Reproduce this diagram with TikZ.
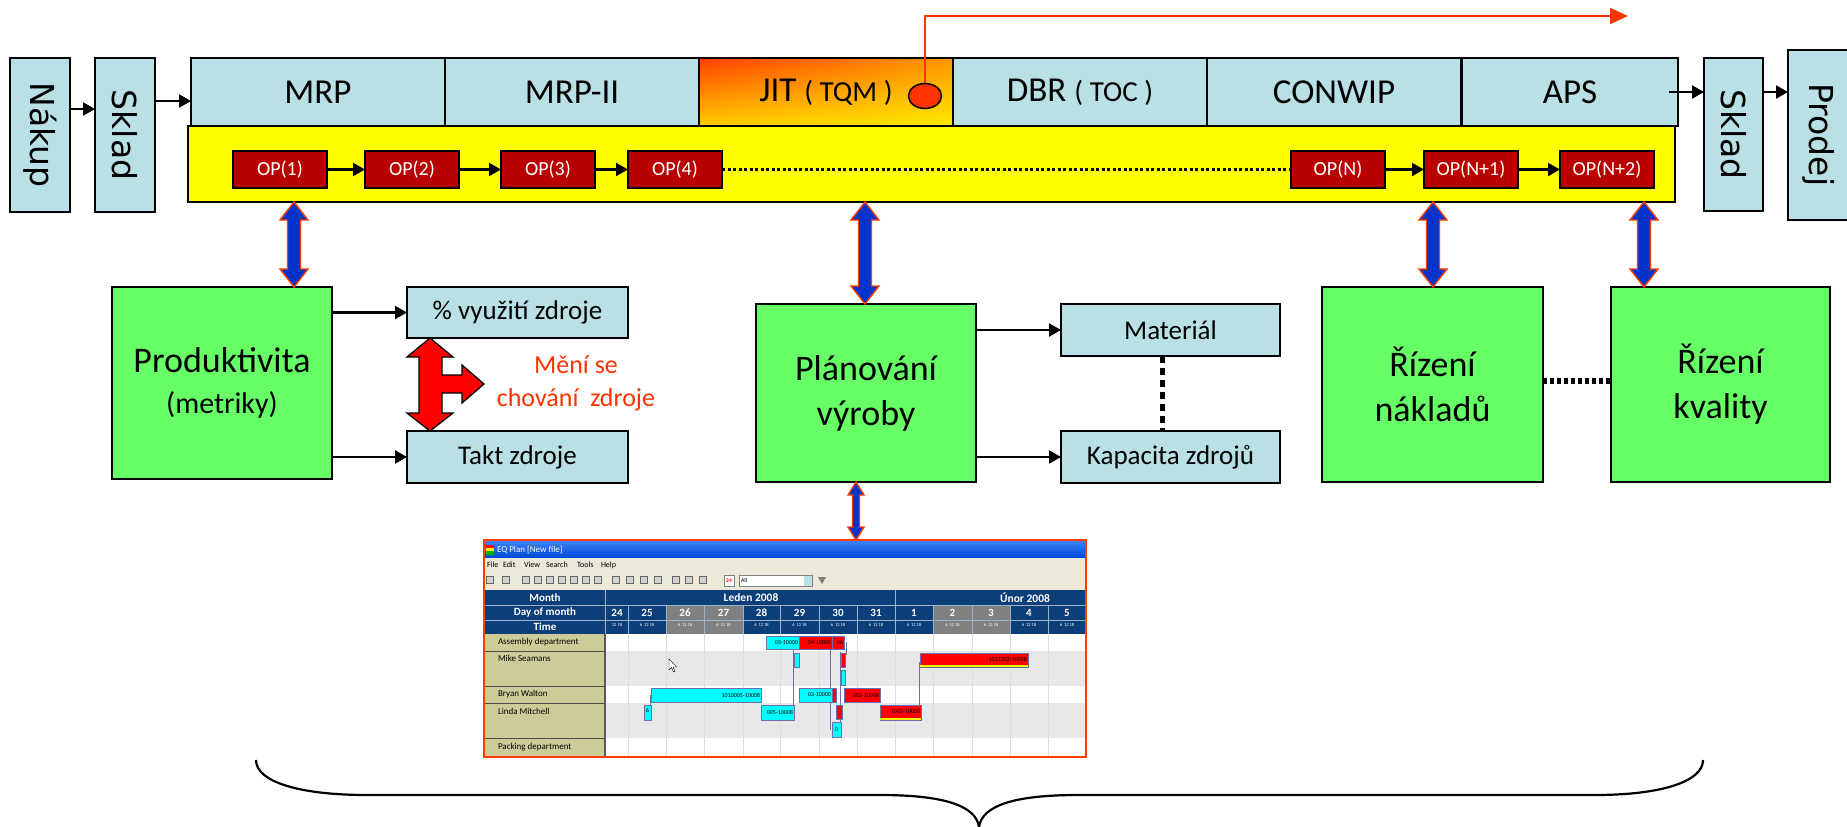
\documentclass[tikz,border=0pt]{standalone}
\usepackage{fontspec}
\usepackage{graphicx}
\setmainfont{Carlito}
\newfontfamily\dejavu{DejaVu Sans}
\usetikzlibrary{arrows.meta,calc,shapes.geometric,shadings}
\definecolor{cellblue}{RGB}{185,224,228}
\definecolor{boxgreen}{RGB}{102,255,102}
\definecolor{opred}{RGB}{185,0,0}
\definecolor{ybg}{RGB}{255,255,0}
\definecolor{bluearr}{RGB}{0,51,204}
\definecolor{orangered}{RGB}{255,60,0}
\definecolor{txtred}{RGB}{255,51,0}
\definecolor{jitA}{RGB}{255,64,0}
\definecolor{jitB}{RGB}{255,150,0}
\definecolor{jitC}{RGB}{255,205,0}
\definecolor{jitD}{RGB}{255,235,0}
\definecolor{hdrblue}{RGB}{12,62,122}
\definecolor{xpgray}{RGB}{236,233,216}
\definecolor{khaki}{RGB}{204,204,153}
\definecolor{rowgray}{RGB}{232,232,232}
\definecolor{daygray}{RGB}{128,128,128}
\definecolor{barcyan}{RGB}{0,255,255}
\definecolor{barred}{RGB}{255,0,0}
\definecolor{linkline}{RGB}{110,110,170}
\definecolor{titleA}{RGB}{60,130,245}
\definecolor{titleB}{RGB}{0,70,215}
\definecolor{gridc}{RGB}{222,222,210}
\newcommand\BlueDA[5]{%
  \filldraw[bda] let \p1=(#1), \p2=(#2) in
    (\x1,\y1) -- (\x1+#4pt,\y1-#5pt) -- (\x1+#3pt,\y1-#5pt) -- (\x2+#3pt,\y2+#5pt)
    -- (\x2+#4pt,\y2+#5pt) -- (\x2,\y2) -- (\x2-#4pt,\y2+#5pt) -- (\x2-#3pt,\y2+#5pt)
    -- (\x1-#3pt,\y1-#5pt) -- (\x1-#4pt,\y1-#5pt) -- cycle;}
\begin{document}
\begin{tikzpicture}[x=1pt,y=-1pt,
  box/.style={draw=black, line width=1.6pt, inner sep=0pt, outer sep=0pt, anchor=north west, align=center},
  cell/.style={box, fill=cellblue},
  gbox/.style={box, fill=boxgreen, font=\fontsize{36}{45}\selectfont},
  topcell/.style={cell, minimum width=254pt, minimum height=68pt, font=\fontsize{35}{40}\selectfont},
  smallcell/.style={cell, font=\fontsize{27}{30}\selectfont},
  vcell/.style={cell, font=\dejavu\fontsize{33}{33}\selectfont},
  opbox/.style={box, fill=opred, text=white, minimum width=94pt, minimum height=37pt, line width=1.2pt, font=\fontsize{20}{24}\selectfont},
  arr/.style={-{Triangle[length=12pt,width=13pt]}, line width=2.2pt},
  bda/.style={fill=bluearr, draw=orangered, line width=1.4pt},
  ss/.style={font=\fontsize{#1}{#1}\selectfont, inner sep=0pt, outer sep=0pt},
  bar/.style={draw=linkline, line width=0.5pt},
  link/.style={draw=linkline, line width=0.6pt}
]
\useasboundingbox (0,0) rectangle (1847,827);

% ---------- left / right stock boxes ----------
\node[vcell, minimum width=60pt, minimum height=154pt] (nakup) at (10,58) {\rotatebox{-90}{Nákup}};
\node[vcell, minimum width=60pt, minimum height=154pt] (sklad) at (95,58) {\rotatebox{-90}{Sklad}};
\node[vcell, minimum width=59pt, minimum height=153pt] (sklad2) at (1704,58) {\rotatebox{-90}{Sklad}};
\node[vcell, minimum width=62pt, minimum height=170pt] (prodej) at (1788,50) {\rotatebox{-90}{Prodej}};

% ---------- top bar ----------
\node[topcell] (mrp) at (191,58) {MRP};
\node[topcell] (mrp2) at (445,58) {MRP-II};
\node[topcell, upper left=jitA, upper right=jitB, lower left=jitC, lower right=jitD] (jit) at (699,58) {JIT {\fontsize{29}{29}\selectfont( TQM )}};
\node[topcell] (dbr) at (953,58) {DBR {\fontsize{29}{29}\selectfont( TOC )}};
\node[topcell] (conwip) at (1207,58) {CONWIP};
\node[topcell, minimum width=216pt] (aps) at (1462,58) {APS};

% ---------- yellow operations band ----------
\node[box, fill=ybg, minimum width=1487pt, minimum height=76pt] (ops) at (188,126) {};
\node[opbox] (op1) at (233,151) {OP(1)};
\node[opbox] (op2) at (365,151) {OP(2)};
\node[opbox] (op3) at (501,151) {OP(3)};
\node[opbox] (op4) at (628,151) {OP(4)};
\node[opbox] (opn) at (1291,151) {OP(N)};
\node[opbox] (opn1) at (1424,151) {OP(N+1)};
\node[opbox] (opn2) at (1560,151) {OP(N+2)};
\draw[arr] (op1) -- (op2);
\draw[arr] (op2) -- (op3);
\draw[arr] (op3) -- (op4);
\draw[line width=3.2pt, dash pattern=on 3pt off 2.5pt] (op4) -- (opn);
\draw[arr] (opn) -- (opn1);
\draw[arr] (opn1) -- (opn2);

% ---------- flow arrows ----------
\draw[arr] ([yshift=26pt]nakup.east) -- ([yshift=26pt]sklad.west);
\coordinate (a1) at ([yshift=34pt]sklad.east);
\draw[arr] (a1) -- (a1 -| mrp.west);
\draw[arr] ([xshift=-9pt]aps.east) -- (aps.east -| sklad2.west);
\coordinate (a2) at (sklad2.east |- aps.east);
\draw[arr] (a2) -- (a2 -| prodej.west);

% ---------- JIT marker and red line ----------
\coordinate (rlend) at (1628,16);
\draw[draw=txtred, line width=2pt, -{Triangle[length=18pt,width=16pt]}] (925,83) -- (925,16) -- (rlend);
\node[ellipse, draw=black, line width=1.5pt, fill=txtred, minimum width=33pt, minimum height=25pt, inner sep=0pt] (circ) at (925,96) {};

% ---------- lower boxes ----------
\node[gbox, font=\fontsize{36}{41}\selectfont, minimum width=220pt, minimum height=192pt] (prod) at (112,287) {Produktivita\\{\fontsize{30}{30}\selectfont(metriky)}};
\node[smallcell, minimum width=221pt, minimum height=51pt] (util) at (407,287) {\% využití zdroje};
\node[smallcell, minimum width=221pt, minimum height=52pt] (takt) at (407,431) {Takt zdroje};
\node[gbox, minimum width=220pt, minimum height=178pt] (plan) at (756,304) {Plánování\\výroby};
\node[smallcell, minimum width=219pt, minimum height=52pt] (mat) at (1061,304) {Materiál};
\node[smallcell, minimum width=219pt, minimum height=52pt] (kap) at (1061,431) {Kapacita zdrojů};
\node[gbox, minimum width=221pt, minimum height=195pt] (rn) at (1322,287) {Řízení\\nákladů};
\node[gbox, minimum width=219pt, minimum height=195pt] (rk) at (1611,287) {Řízení\\kvality};

\draw[arr] (prod.east |- util.west) -- (util.west);
\draw[arr] (prod.east |- takt.west) -- (takt.west);
\draw[arr] (plan.east |- mat.west) -- (mat.west);
\draw[arr] (plan.east |- kap.west) -- (kap.west);
\draw[line width=4.5pt, dash pattern=on 7pt off 5pt] ([xshift=-8pt]mat.south) -- ([xshift=-8pt]kap.north);
\draw[line width=6pt, dash pattern=on 4pt off 3pt] ([yshift=4pt]rn.east) -- ([yshift=4pt]rk.west);

% ---------- blue double arrows ----------
\coordinate (xa) at (294,0);
\coordinate (xb) at (865,0);
\coordinate (xc) at (1433,0);
\coordinate (xd) at (1644,0);
\coordinate (xe) at (856,0);
\BlueDA{xa |- ops.south}{xa |- prod.north}{6.5}{14}{18}
\BlueDA{xb |- ops.south}{xb |- plan.north}{6.5}{14}{18}
\BlueDA{xc |- ops.south}{xc |- rn.north}{6.5}{14}{18}
\BlueDA{xd |- ops.south}{xd |- rk.north}{6.5}{14}{18}

% ---------- red change arrow ----------
\filldraw[fill=barred, draw=black, line width=1.3pt, line join=miter]
  (430,338) -- (453,357) -- (442,357) -- (442,375) -- (462,375) -- (462,365) -- (484,384)
  -- (462,403) -- (462,393) -- (442,393) -- (442,413) -- (453,413) -- (430,431)
  -- (407,413) -- (419,413) -- (419,357) -- (407,357) -- cycle;
\node[text=txtred, font=\fontsize{26}{33}\selectfont, align=center] (chg) at (576,383) {Mění se\\chování\ \ zdroje};

% ---------- screenshot ----------
\coordinate (shotTop) at (856,540);
\BlueDA{xe |- plan.south}{shotTop}{3.5}{8}{13}
\fill[white] (484,540) rectangle (1086,757);
\shade[top color=titleA, bottom color=titleB] (484,541) rectangle (1086,558);
\fill[red] (486,545) rectangle (494,548);
\fill[yellow] (486,548) rectangle (494,551);
\fill[green!70!black] (486,551) rectangle (494,555);
\node[ss=9, text=white, anchor=west] (ttl) at (497,550) {EQ Plan [New file]};
\fill[xpgray] (484,558) rectangle (1086,590);
\node[ss=8, anchor=west] (m1) at (487,565) {File};
\node[ss=8, anchor=west] (m2) at (503,565) {Edit};
\node[ss=8, anchor=west] (m3) at (524,565) {View};
\node[ss=8, anchor=west] (m4) at (546,565) {Search};
\node[ss=8, anchor=west] (m5) at (577,565) {Tools};
\node[ss=8, anchor=west] (m6) at (601,565) {Help};
\foreach \x in {490,506,526,538,550,562,574,586,598,616,630,644,658,676,689,703}
  \draw[fill=gray!35, draw=gray!80!black, line width=0.4pt] (\x-3.5,576.5) rectangle (\x+3.5,583.5);
\draw[fill=white, draw=gray, line width=0.4pt] (724,575) rectangle (734,586);
\node[ss=5.5, text=red, font=\bfseries\fontsize{5.5}{5.5}\selectfont] (t24) at (729,580.5) {24};
\draw[fill=white, draw=gray, line width=0.4pt] (739,575) rectangle (812,586);
\fill[cellblue] (804,575.5) rectangle (811.5,585.5);
\node[ss=6, anchor=west] (all) at (741,580.5) {All};
\fill[gray] (818,577) -- (826,577) -- (822,584) -- cycle;

% header
\fill[hdrblue] (484,590) rectangle (1086,634);
\fill[daygray] (666,605) rectangle (743,634);
\fill[daygray] (933,605) rectangle (1010,634);
\draw[white!60!hdrblue, line width=0.6pt] (484,605) -- (1086,605) (484,620) -- (1086,620) (605,590) -- (605,634) (895,590) -- (895,634);
\foreach \x in {628,666,704,743,780,819,857,933,972,1010,1048}
  \draw[white!60!hdrblue, line width=0.5pt] (\x,605) -- (\x,634);
\node[ss=11, text=white, font=\bfseries\fontsize{11}{11}\selectfont] (hm) at (545,597.5) {Month};
\node[ss=11, text=white, font=\bfseries\fontsize{11}{11}\selectfont] (hd) at (545,612.5) {Day of month};
\node[ss=11, text=white, font=\bfseries\fontsize{11}{11}\selectfont] (ht) at (545,627) {Time};
\node[ss=11, text=white, font=\bfseries\fontsize{11.5}{11.5}\selectfont] (m1h) at (751,597.5) {Leden 2008};
\node[ss=11, text=white, font=\bfseries\fontsize{11.5}{11.5}\selectfont] (m2h) at (1025,597.5) {Únor 2008};
\foreach \d/\c [count=\i] in {24/617,25/647,26/685,27/723.5,28/761.5,29/799.5,30/838,31/876,1/914,2/952.5,3/991,4/1029,5/1067}
  \node[ss=11, text=white, font=\bfseries\fontsize{11}{11}\selectfont] (dd\i) at (\c,612.5) {\d};
\node[ss=4.5, text=white] (tt0) at (617,625) {12 18};
\foreach \c [count=\i] in {647,685,723.5,761.5,799.5,838,876,914,952.5,991,1029,1067}
  \node[ss=4.5, text=white] (tt\i) at (\c,625) {6\ \ 12\ 18};

% rows
\fill[rowgray] (606,651) rectangle (1086,686);
\fill[rowgray] (606,703) rectangle (1086,738);
\foreach \x in {628,666,704,743,780,819,857,895,933,972,1010,1048}
  \draw[gridc, line width=0.5pt] (\x,634) -- (\x,756);
\fill[khaki] (484,634) rectangle (604,756);
\draw[gray!60!black, line width=0.6pt] (484,651) -- (604,651) (484,686) -- (604,686) (484,703) -- (604,703) (484,738) -- (604,738);
\draw[gray!70!black, line width=1.2pt] (605,634) -- (605,756);
\node[ss=9, anchor=west] (r1) at (498,642.5) {Assembly department};
\node[ss=9, anchor=west] (r2) at (498,658) {Mike Seamans};
\node[ss=9, anchor=west] (r3) at (498,694.5) {Bryan Walton};
\node[ss=9, anchor=west] (r4) at (498,711) {Linda Mitchell};
\node[ss=9, anchor=west] (r5) at (498,747) {Packing department};

% links
\draw[link] (793,650) -- (793,705);
\draw[link] (830,650) -- (830,730);
\draw[link] (919,662) -- (919,705);
\draw[link] (650,695) -- (650,710);
\draw[link] (840,652) -- (840,730);
\draw[link] (846,642) -- (846,655);

% bars
\draw[bar, fill=barcyan] (766,636) rectangle (799,649);
\draw[bar, fill=barred] (799,636) rectangle (832,649);
\draw[bar, fill=barred] (832,636) rectangle (844,649);
\node[ss=6, anchor=east] (b1) at (798,642.5) {03-10000};
\node[ss=6, anchor=east] (b2) at (831,642.5) {04-10000};
\node[ss=6, anchor=east] (b3) at (843,642.5) {06};

\draw[bar, fill=barcyan] (794,653) rectangle (799,667);
\draw[bar, fill=barred] (841,653) rectangle (845,667);
\draw[bar, fill=barcyan] (841,670) rectangle (845,685);
\draw[bar, fill=barred] (920,653) rectangle (1028,667);
\fill[yellow] (920.3,664.5) rectangle (1027.7,666.7);
\node[ss=6, anchor=east] (b4) at (1027,659.5) {1011002-10008};

\draw[bar, fill=barcyan] (651,688) rectangle (761,702);
\node[ss=6, anchor=east] (b5) at (760,695) {1010005-10008};
\draw[bar, fill=barcyan] (799,688) rectangle (832,702);
\node[ss=6, anchor=east] (b6) at (831,695) {03-10000};
\draw[bar, fill=barred] (832,688) rectangle (836,702);
\draw[bar, fill=barred] (844,688) rectangle (880,702);
\node[ss=6, anchor=east] (b7) at (879,695) {002-10008};

\draw[bar, fill=barcyan] (644,705) rectangle (651,720);
\node[ss=6] (b8) at (647.5,710) {6};
\draw[bar, fill=barcyan] (761,705) rectangle (794,720);
\node[ss=6, anchor=east] (b9) at (793,712) {005-10008};
\draw[bar, fill=barred] (836,705) rectangle (842,719);
\draw[bar, fill=barred] (880,705) rectangle (921,720);
\fill[yellow] (880.3,717.5) rectangle (920.7,719.7);
\node[ss=6, anchor=east] (b10) at (920,711.5) {1002-10008};
\draw[bar, fill=barcyan] (832,722) rectangle (841,737);
\node[ss=6] (b11) at (836.5,729.5) {0};

% cursor
\filldraw[fill=white, draw=black, line width=0.4pt] (669,659) -- (669,670) -- (671.5,667.5) -- (673.5,672) -- (675,671.3) -- (673,667) -- (676.5,667) -- cycle;

\draw[orangered, line width=2pt] (484,540) rectangle (1086,757);

% ---------- brace ----------
\draw[line width=2.2pt] (256,760) .. controls (256,782) and (300,795) .. (367,795) -- (880,795)
  .. controls (945,795) and (976,806) .. (979,827)
  .. controls (982,806) and (1013,795) .. (1078,795) -- (1595,795)
  .. controls (1660,795) and (1703,782) .. (1703,760);
\end{tikzpicture}
\end{document}
